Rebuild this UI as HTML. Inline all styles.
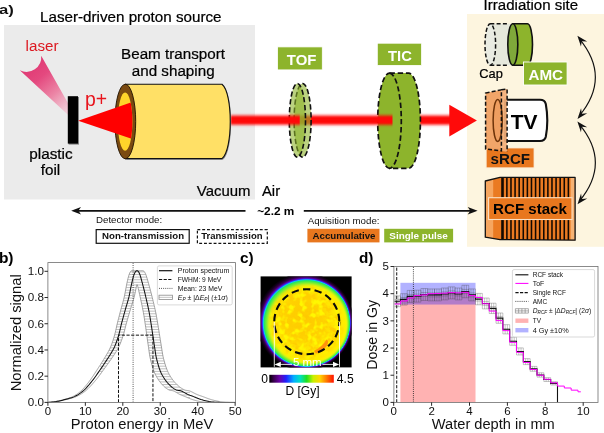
<!DOCTYPE html>
<html><head><meta charset="utf-8"><title>Figure</title>
<style>
html,body{margin:0;padding:0;background:#fff;}
body{width:604px;height:433px;overflow:hidden;font-family:"Liberation Sans", sans-serif;}
svg text{font-family:"Liberation Sans", sans-serif;}
</style></head><body>
<svg width="604" height="433" viewBox="0 0 604 433" font-family='"Liberation Sans", sans-serif' style="display:block;will-change:transform"><defs>
<linearGradient id="laserg" gradientUnits="userSpaceOnUse" x1="29" y1="63" x2="69" y2="110">
  <stop offset="0" stop-color="#e03872"/>
  <stop offset="0.3" stop-color="#e4497f"/>
  <stop offset="0.65" stop-color="#ec86a6"/>
  <stop offset="1" stop-color="#f2c6d4" stop-opacity="0.8"/>
</linearGradient>
<filter id="blur1" x="-5%" y="-60%" width="110%" height="220%"><feGaussianBlur stdDeviation="0 1.45"/></filter>
<filter id="blurS" x="-20%" y="-20%" width="140%" height="140%"><feGaussianBlur stdDeviation="0.6"/></filter>
<linearGradient id="cbar" x1="0" y1="0" x2="1" y2="0">
  <stop offset="0" stop-color="#000000"/>
  <stop offset="0.07" stop-color="#3a0050"/>
  <stop offset="0.16" stop-color="#6a00a8"/>
  <stop offset="0.26" stop-color="#2020ff"/>
  <stop offset="0.38" stop-color="#00b0ff"/>
  <stop offset="0.48" stop-color="#00e0c0"/>
  <stop offset="0.58" stop-color="#20e020"/>
  <stop offset="0.68" stop-color="#c8f000"/>
  <stop offset="0.78" stop-color="#ffd800"/>
  <stop offset="0.88" stop-color="#ff8000"/>
  <stop offset="1" stop-color="#ff1000"/>
</linearGradient>
<radialGradient id="rcfimg" gradientUnits="userSpaceOnUse" cx="304.84" cy="321.78" r="48.6" fx="321.4" fy="334.2">
  <stop offset="0" stop-color="#ffe600"/>
  <stop offset="0.70" stop-color="#ffec00"/>
  <stop offset="0.75" stop-color="#fdf000"/>
  <stop offset="0.788" stop-color="#eef408"/>
  <stop offset="0.8115" stop-color="#c8f018"/>
  <stop offset="0.8415" stop-color="#7cf030"/>
  <stop offset="0.877" stop-color="#28e858"/>
  <stop offset="0.8925" stop-color="#08c8f8"/>
  <stop offset="0.906" stop-color="#2838ff"/>
  <stop offset="0.918" stop-color="#5a00b0"/>
  <stop offset="0.94" stop-color="#36004c"/>
  <stop offset="0.97" stop-color="#14001c"/>
  <stop offset="1" stop-color="#000000"/>
</radialGradient>
<radialGradient id="oblob" gradientUnits="userSpaceOnUse" cx="302" cy="318" r="34">
  <stop offset="0" stop-color="#ffae00" stop-opacity="0.6"/>
  <stop offset="0.6" stop-color="#ffb400" stop-opacity="0.42"/>
  <stop offset="1" stop-color="#ffc000" stop-opacity="0"/>
</radialGradient>
<clipPath id="imgclip"><rect x="260.6" y="276.4" width="91" height="91"/></clipPath>
<clipPath id="axb"><rect x="48" y="262.5" width="187.5" height="140"/></clipPath>
<clipPath id="axd"><rect x="394.5" y="266.5" width="204.5" height="136"/></clipPath>
</defs>
<rect x="0" y="0" width="604" height="433" fill="#ffffff"/>
<rect x="4" y="25" width="251" height="174.5" fill="#ebebeb"/>
<rect x="467" y="14" width="137" height="232.8" fill="#fdf5df"/>
<text transform="translate(-1.1 14.4) scale(1.3 1)" font-size="12.8" font-weight="bold" fill="#111">a)</text>
<text x="40" y="21.5" font-size="15.2" text-anchor="start" font-weight="normal" fill="#000" stroke="#000" stroke-width="0.22" >Laser-driven proton source</text>
<text x="483.6" y="10.4" font-size="15.05" text-anchor="start" font-weight="normal" fill="#000" stroke="#000" stroke-width="0.22" >Irradiation site</text>
<text x="25.6" y="51.4" font-size="15.2" text-anchor="start" font-weight="normal" fill="#dc1820"  >laser</text>
<text x="173" y="59.4" font-size="15.2" text-anchor="middle" font-weight="normal" fill="#000" stroke="#000" stroke-width="0.22" >Beam transport</text>
<text x="173.2" y="75.8" font-size="15.2" text-anchor="middle" font-weight="normal" fill="#000" stroke="#000" stroke-width="0.22" >and shaping</text>
<text x="51" y="159.3" font-size="15.3" text-anchor="middle" font-weight="normal" fill="#000" stroke="#000" stroke-width="0.22" >plastic</text>
<text x="50.5" y="175.2" font-size="15.3" text-anchor="middle" font-weight="normal" fill="#000" stroke="#000" stroke-width="0.22" >foil</text>
<text x="196.8" y="195.7" font-size="14.95" text-anchor="start" font-weight="normal" fill="#000" stroke="#000" stroke-width="0.22" >Vacuum</text>
<text x="262" y="195.7" font-size="14.8" text-anchor="start" font-weight="normal" fill="#000" stroke="#000" stroke-width="0.22" >Air</text>
<text x="85" y="106" font-size="19.4" text-anchor="start" font-weight="normal" fill="#e8141c"  >p+</text>
<path d="M41.2 55.8 A14.8 14.8 0 0 1 19.8 70.3 L68.2 115 L68.2 103.4 Z" fill="url(#laserg)"/>
<rect x="68.6" y="97" width="10.4" height="47.6" fill="#000" fill-opacity="0.45" filter="url(#blurS)"/>
<rect x="67.8" y="96.2" width="10.2" height="47.4" fill="#000"/>
<path d="M125.3 84.3 L222 84.3 C233 93 233 150 222 158.6 L125.3 158.6 Z" transform="translate(0.9 1.1)" fill="#000" fill-opacity="0.4" filter="url(#blurS)"/>
<path d="M125.3 84.3 L222 84.3 C233 93 233 150 222 158.6 L125.3 158.6 Z" fill="#ffe066" stroke="#111" stroke-width="1.1" stroke-linejoin="round"/>
<ellipse cx="125.3" cy="121.5" rx="10.4" ry="37.3" fill="#7b4a10" stroke="#1e1000" stroke-width="0.9"/>
<ellipse cx="125.1" cy="121.6" rx="7.3" ry="29.2" fill="#ffd42a"/>
<clipPath id="conec"><rect x="60" y="90" width="65.1" height="64"/><ellipse cx="125.1" cy="121.6" rx="7.3" ry="29.2"/></clipPath>
<path d="M78.2 120.7 L134 101.5 L134 139.6 Z" fill="#ff0000" clip-path="url(#conec)"/>
<defs><linearGradient id="beamg" gradientUnits="userSpaceOnUse" x1="0" y1="112.2" x2="0" y2="128"><stop offset="0" stop-color="#ff0000" stop-opacity="0"/><stop offset="0.1" stop-color="#ff0000" stop-opacity="0.1"/><stop offset="0.2" stop-color="#ff0000" stop-opacity="0.45"/><stop offset="0.29" stop-color="#ff0000" stop-opacity="0.82"/><stop offset="0.37" stop-color="#ff0808" stop-opacity="1"/><stop offset="0.63" stop-color="#ff0808" stop-opacity="1"/><stop offset="0.71" stop-color="#ff0000" stop-opacity="0.82"/><stop offset="0.8" stop-color="#ff0000" stop-opacity="0.45"/><stop offset="0.9" stop-color="#ff0000" stop-opacity="0.1"/><stop offset="1" stop-color="#ff0000" stop-opacity="0"/></linearGradient><g id="beam"><rect x="225" y="112.2" width="228" height="15.8" fill="url(#beamg)"/></g><clipPath id="bc0"><rect x="299.8" y="100" width="16.2" height="44"/><rect x="392.5" y="100" width="68" height="44"/></clipPath><clipPath id="bc1"><rect x="231.2" y="100" width="68.6" height="44"/><rect x="316" y="100" width="76.5" height="44"/></clipPath></defs>
<use href="#beam" clip-path="url(#bc0)"/>
<path d="M449.3 104.8 L476.9 120.5 L449.3 136.4 Z" fill="#ff0a0a"/>
<rect x="277.5" y="46.9" width="44.8" height="23" fill="#8db42c" stroke="#fff" stroke-width="0.8"/>
<text x="286.8" y="64.6" font-size="14.8" font-weight="bold" fill="#fff" textLength="29.6" lengthAdjust="spacingAndGlyphs">TOF</text>
<ellipse cx="302.6" cy="120.3" rx="8.5" ry="36.8" fill="#8db42c" fill-opacity="0.6" stroke="#111" stroke-width="1.6" stroke-dasharray="5.2 2.6"/>
<ellipse cx="297.4" cy="120.3" rx="8.1" ry="36.8" fill="#8db42c" fill-opacity="0.6" stroke="#111" stroke-width="1.6" stroke-dasharray="5.2 2.6"/>
<rect x="377.3" y="43.2" width="44.3" height="22.2" fill="#8db42c" stroke="#fff" stroke-width="0.8"/>
<text x="388.1" y="61.1" font-size="14.8" font-weight="bold" fill="#fff" textLength="23.8" lengthAdjust="spacingAndGlyphs">TIC</text>
<path d="M389.5 73.1 L408.6 73.1 A11.8 47.6 0 0 1 408.6 168.3 L389.5 168.3 A11.8 47.6 0 0 1 389.5 73.1 Z" fill="#8db42c" stroke="#111" stroke-width="1.7" stroke-dasharray="5.4 2.8"/>
<path d="M389.5 73.1 A11.8 47.6 0 0 1 389.5 168.3" fill="none" stroke="#111" stroke-width="1.7" stroke-dasharray="5.4 2.8"/>
<use href="#beam" clip-path="url(#bc1)"/>
<path d="M77 210.8 L245.5 210.8 M303.8 210.8 L471.5 210.8" stroke="#111" stroke-width="1.75" fill="none"/>
<path d="M71.2 210.8 L81 207.1 L78.4 210.8 L81 214.5 Z" fill="#111"/>
<path d="M477.6 210.8 L467.7 207.1 L470.3 210.8 L467.7 214.5 Z" fill="#111"/>
<text x="257.2" y="215.1" font-size="11.8" text-anchor="start" font-weight="bold" fill="#000"  >~2.2 m</text>
<text x="96" y="223.4" font-size="9.9" fill="#111" textLength="66.2" lengthAdjust="spacingAndGlyphs">Detector mode:</text>
<rect x="96.2" y="229.6" width="93" height="13.7" fill="#fff" stroke="#111" stroke-width="1.2"/>
<text x="102.1" y="239.1" font-size="9.8" font-weight="bold" fill="#111" textLength="82" lengthAdjust="spacingAndGlyphs">Non-transmission</text>
<rect x="197.4" y="229.6" width="69.9" height="13.7" fill="#fff" stroke="#111" stroke-width="1.2" stroke-dasharray="2.9 1.9"/>
<text x="201.2" y="239.1" font-size="9.8" font-weight="bold" fill="#111" textLength="61.5" lengthAdjust="spacingAndGlyphs">Transmission</text>
<text x="307.7" y="224" font-size="9.9" fill="#111" textLength="71.8" lengthAdjust="spacingAndGlyphs">Aquisition mode:</text>
<rect x="307.4" y="228.8" width="72.1" height="13.6" fill="#e8771e"/>
<text x="312.5" y="238.9" font-size="9.9" font-weight="bold" fill="#111" textLength="63" lengthAdjust="spacingAndGlyphs">Accumulative</text>
<rect x="384.2" y="228.8" width="68.9" height="13.6" fill="#8db42c"/>
<text x="389.3" y="238.9" font-size="9.9" font-weight="bold" fill="#fff" textLength="58.5" lengthAdjust="spacingAndGlyphs">Single pulse</text>
<path d="M490.3 23.8 L512.5 23.8 L512.5 65.2 L490.3 65.2 A5.3 20.7 0 0 1 490.3 23.8 Z" fill="#e6e8dc"/>
<ellipse cx="490.3" cy="44.5" rx="5.3" ry="20.7" fill="#e9ebe2" stroke="#111" stroke-width="1.5" stroke-dasharray="4 2.3"/>
<path d="M490.3 23.8 L508 23.8 M490.3 65.2 L508 65.2" stroke="#111" stroke-width="1.5" stroke-dasharray="4 2.3" fill="none"/>
<path d="M512.8 23.8 L527.5 23.8 A5 20.7 0 0 1 527.5 65.2 L512.8 65.2 Z" fill="#8db42c" stroke="#111" stroke-width="1.6" stroke-linejoin="round"/>
<ellipse cx="512.8" cy="44.5" rx="5" ry="20.7" fill="#7fa83a" stroke="#111" stroke-width="1.6"/>
<text x="479.3" y="77.5" font-size="12.8" text-anchor="start" font-weight="normal" fill="#000" stroke="#000" stroke-width="0.22" >Cap</text>
<rect x="523.5" y="62" width="43.6" height="23" fill="#8db42c" stroke="#fff" stroke-width="0.9"/>
<text x="528.5" y="79.7" font-size="14.6" font-weight="bold" fill="#fff" textLength="34.6" lengthAdjust="spacingAndGlyphs">AMC</text>
<path d="M505 99.8 L540 99.8 Q544.8 99.8 545.8 104 Q548.8 120.4 545.8 136.8 Q544.8 141 540 141 L505 141 Z" fill="#fff" stroke="#111" stroke-width="2.1" stroke-linejoin="round"/>
<text x="524.2" y="129.1" font-size="21" text-anchor="middle" font-weight="bold" fill="#000"  >TV</text>
<rect x="486.2" y="148" width="47.8" height="19.8" fill="#e8771e" stroke="#fbe6cf" stroke-width="0.8"/>
<text x="510.3" y="163.6" font-size="14.5" font-weight="bold" text-anchor="middle" fill="#111" textLength="39.4" lengthAdjust="spacingAndGlyphs">sRCF</text>
<path d="M485.6 93.1 L501.4 89.8 L501.4 151 L485.6 149 Z" fill="#f0a062" fill-opacity="0.95"/>
<path d="M501.4 89.8 L507.1 89 L507.1 151.8 L501.4 151 Z" fill="#f3ae78" fill-opacity="0.93"/>
<ellipse cx="497.7" cy="120.4" rx="4.6" ry="21" fill="#ef9a5a" fill-opacity="0.6" stroke="#6e340a" stroke-width="1.5"/>
<path d="M485.6 93.1 L501.4 89.8 L501.4 151 L485.6 149 Z" fill="none" stroke="#111" stroke-width="1.5" stroke-dasharray="4 2.2"/>
<path d="M501.4 89.8 L507.1 89 L507.1 151.8" fill="none" stroke="#111" stroke-width="1.5" stroke-dasharray="4 2.2"/>
<path d="M485.3 181 L500 177.4 L575.1 177.4 L575.1 240.2 L500 239.6 L485.3 237.2 Z" fill="#ea7a22"/>
<path d="M485.3 181 L493.2 179.1 L493.2 238.5 L485.3 237.2 Z" fill="#f6a660"/>
<rect x="570.6" y="177.4" width="4.5" height="62.8" fill="#f7b374"/>
<rect x="501.20" y="177.4" width="2.6" height="62.6" fill="#120800"/><rect x="506.10" y="177.4" width="1.55" height="62.6" fill="#120800"/><rect x="510.20" y="177.4" width="1.55" height="62.6" fill="#120800"/><rect x="514.30" y="177.4" width="1.55" height="62.6" fill="#120800"/><rect x="518.40" y="177.4" width="1.55" height="62.6" fill="#120800"/><rect x="522.50" y="177.4" width="1.55" height="62.6" fill="#120800"/><rect x="526.60" y="177.4" width="1.55" height="62.6" fill="#120800"/><rect x="530.70" y="177.4" width="1.55" height="62.6" fill="#120800"/><rect x="534.80" y="177.4" width="1.55" height="62.6" fill="#120800"/><rect x="538.90" y="177.4" width="1.55" height="62.6" fill="#120800"/><rect x="543.00" y="177.4" width="1.55" height="62.6" fill="#120800"/><rect x="547.10" y="177.4" width="1.55" height="62.6" fill="#120800"/><rect x="551.20" y="177.4" width="1.55" height="62.6" fill="#120800"/><rect x="555.30" y="177.4" width="1.55" height="62.6" fill="#120800"/><rect x="559.40" y="177.4" width="1.55" height="62.6" fill="#120800"/><rect x="563.50" y="177.4" width="1.55" height="62.6" fill="#120800"/><rect x="567.60" y="177.4" width="1.55" height="62.6" fill="#120800"/>
<path d="M485.3 181 L500 177.4 L575.1 177.4 L575.1 240.2 L500 239.6 L485.3 237.2 Z" fill="none" stroke="#111" stroke-width="1.3" stroke-linejoin="round"/>
<rect x="488.6" y="197.7" width="83.4" height="21.8" fill="#e8771e" stroke="#fbe0c4" stroke-width="1.1"/>
<text x="530" y="213.9" font-size="15.1" text-anchor="middle" font-weight="bold" fill="#000"  >RCF stack</text>
<path d="M579.2 38.6 Q611.5 77.3 579.2 116" fill="none" stroke="#111" stroke-width="1.15"/>
<path d="M577.40 35.80 L580.96 46.56 L581.74 41.15 L587.18 41.52 Z" fill="#111"/>
<path d="M577.50 119.00 L587.28 113.28 L581.84 113.65 L581.06 108.24 Z" fill="#111"/>
<path d="M579.2 124.2 Q611.5 162.8 579.2 201.4" fill="none" stroke="#111" stroke-width="1.15"/>
<path d="M577.40 121.50 L580.96 132.26 L581.74 126.85 L587.18 127.22 Z" fill="#111"/>
<path d="M577.50 204.30 L587.28 198.58 L581.84 198.95 L581.06 193.54 Z" fill="#111"/>
<text x="-1.1" y="263" font-size="15.5" text-anchor="start" font-weight="bold" fill="#000"  >b)</text>
<clipPath id="bandclip"><path d="M47.90 402.40 L48.37 402.39 L48.84 402.39 L49.30 402.36 L49.77 402.33 L50.24 402.28 L50.71 402.22 L51.18 402.17 L51.64 402.11 L52.11 402.06 L52.58 402.00 L53.05 401.94 L53.52 401.88 L53.99 401.81 L54.45 401.74 L54.92 401.67 L55.39 401.59 L55.86 401.51 L56.33 401.42 L56.79 401.32 L57.26 401.22 L57.73 401.12 L58.20 401.02 L58.67 400.91 L59.13 400.80 L59.60 400.69 L60.07 400.58 L60.54 400.46 L61.01 400.34 L61.48 400.22 L61.94 400.10 L62.41 399.98 L62.88 399.85 L63.35 399.72 L63.82 399.59 L64.28 399.45 L64.75 399.32 L65.22 399.18 L65.69 399.04 L66.16 398.91 L66.62 398.77 L67.09 398.64 L67.56 398.51 L68.03 398.37 L68.50 398.23 L68.97 398.09 L69.43 397.94 L69.90 397.78 L70.37 397.62 L70.84 397.45 L71.31 397.27 L71.77 397.07 L72.24 396.87 L72.71 396.64 L73.18 396.41 L73.65 396.16 L74.11 395.91 L74.58 395.64 L75.05 395.37 L75.52 395.09 L75.99 394.80 L76.46 394.50 L76.92 394.18 L77.39 393.87 L77.86 393.53 L78.33 393.19 L78.80 392.82 L79.26 392.46 L79.73 392.07 L80.20 391.67 L80.67 391.26 L81.14 390.83 L81.60 390.39 L82.07 389.93 L82.54 389.46 L83.01 388.97 L83.48 388.47 L83.95 387.95 L84.41 387.43 L84.88 386.88 L85.35 386.33 L85.82 385.77 L86.29 385.20 L86.75 384.61 L87.22 384.02 L87.69 383.42 L88.16 382.82 L88.63 382.21 L89.09 381.59 L89.56 380.97 L90.03 380.33 L90.50 379.70 L90.97 379.04 L91.44 378.37 L91.90 377.70 L92.37 377.01 L92.84 376.32 L93.31 375.62 L93.78 374.92 L94.24 374.21 L94.71 373.49 L95.18 372.77 L95.65 372.05 L96.12 371.33 L96.59 370.61 L97.05 369.88 L97.52 369.16 L97.99 368.44 L98.46 367.71 L98.93 366.99 L99.39 366.26 L99.86 365.53 L100.33 364.80 L100.80 364.06 L101.27 363.32 L101.73 362.58 L102.20 361.83 L102.67 361.09 L103.14 360.33 L103.61 359.58 L104.08 358.81 L104.54 358.04 L105.01 357.27 L105.48 356.48 L105.95 355.69 L106.42 354.89 L106.88 354.09 L107.35 353.29 L107.82 352.48 L108.29 351.64 L108.76 350.78 L109.22 349.89 L109.69 348.95 L110.16 347.95 L110.63 346.88 L111.10 345.75 L111.56 344.55 L112.03 343.28 L112.50 341.94 L112.97 340.53 L113.44 339.06 L113.91 337.53 L114.37 335.94 L114.84 334.27 L115.31 332.43 L115.78 330.38 L116.25 328.21 L116.71 326.06 L117.18 324.04 L117.65 322.13 L118.12 320.27 L118.59 318.42 L119.06 316.60 L119.52 314.79 L119.99 312.99 L120.46 311.20 L120.93 309.44 L121.40 307.72 L121.86 306.03 L122.33 304.34 L122.80 302.65 L123.27 300.93 L123.74 299.15 L124.20 297.25 L124.67 295.11 L125.14 292.62 L125.61 289.94 L126.08 287.50 L126.54 285.13 L127.01 282.82 L127.48 280.66 L127.95 278.70 L128.42 276.90 L128.89 275.28 L129.35 273.90 L129.82 272.79 L130.29 271.93 L130.76 271.30 L131.23 270.90 L131.69 270.70 L132.16 270.73 L132.63 270.69 L133.10 270.76 L133.57 270.69 L134.03 270.74 L134.50 270.69 L134.97 270.71 L135.44 270.70 L135.91 270.70 L136.38 270.72 L136.84 270.70 L137.31 270.73 L137.78 270.69 L138.25 270.74 L138.72 270.69 L139.18 270.74 L139.65 270.69 L140.12 270.73 L140.59 270.70 L141.06 270.72 L141.53 270.70 L141.99 270.70 L142.46 270.72 L142.93 270.70 L143.40 270.85 L143.87 271.18 L144.33 271.70 L144.80 272.42 L145.27 273.30 L145.74 274.35 L146.21 275.56 L146.67 276.97 L147.14 278.56 L147.61 280.22 L148.08 281.88 L148.55 283.52 L149.02 285.17 L149.48 286.85 L149.95 288.56 L150.42 290.31 L150.89 292.11 L151.36 293.94 L151.82 295.81 L152.29 297.68 L152.76 299.58 L153.23 301.50 L153.70 303.44 L154.16 305.41 L154.63 307.43 L155.10 309.50 L155.57 311.68 L156.04 314.00 L156.50 316.52 L156.97 319.20 L157.44 321.98 L157.91 324.74 L158.38 327.57 L158.85 330.53 L159.31 333.51 L159.78 336.45 L160.25 339.42 L160.72 342.38 L161.19 345.29 L161.65 348.13 L162.12 351.15 L162.59 354.07 L163.06 356.49 L163.53 358.52 L164.00 360.30 L164.46 361.99 L164.93 363.59 L165.40 365.11 L165.87 366.56 L166.34 367.92 L166.80 369.19 L167.27 370.37 L167.74 371.47 L168.21 372.49 L168.68 373.44 L169.14 374.32 L169.61 375.14 L170.08 375.92 L170.55 376.67 L171.02 377.38 L171.49 378.06 L171.95 378.73 L172.42 379.37 L172.89 380.00 L173.36 380.60 L173.83 381.18 L174.29 381.73 L174.76 382.27 L175.23 382.79 L175.70 383.30 L176.17 383.79 L176.63 384.26 L177.10 384.72 L177.57 385.16 L178.04 385.59 L178.51 386.01 L178.98 386.41 L179.44 386.79 L179.91 387.15 L180.38 387.50 L180.85 387.83 L181.32 388.14 L181.78 388.44 L182.25 388.72 L182.72 388.99 L183.19 389.25 L183.66 389.49 L184.12 389.71 L184.59 389.93 L185.06 390.10 L185.53 390.25 L186.00 390.35 L186.47 390.42 L186.93 390.47 L187.40 390.52 L187.87 390.56 L188.34 390.62 L188.81 390.71 L189.27 390.83 L189.74 390.97 L190.21 391.16 L190.68 391.35 L191.15 391.57 L191.61 391.79 L192.08 392.03 L192.55 392.27 L193.02 392.51 L193.49 392.76 L193.96 393.01 L194.42 393.25 L194.89 393.49 L195.36 393.73 L195.83 393.96 L196.30 394.18 L196.76 394.39 L197.23 394.59 L197.70 394.78 L198.17 394.96 L198.64 395.14 L199.10 395.31 L199.57 395.47 L200.04 395.63 L200.51 395.79 L200.98 395.94 L201.45 396.10 L201.91 396.26 L202.38 396.43 L202.85 396.59 L203.32 396.77 L203.79 396.94 L204.25 397.12 L204.72 397.30 L205.19 397.48 L205.66 397.67 L206.13 397.85 L206.59 398.03 L207.06 398.21 L207.53 398.38 L208.00 398.56 L208.47 398.72 L208.94 398.89 L209.40 399.04 L209.87 399.20 L210.34 399.34 L210.81 399.48 L211.28 399.61 L211.74 399.74 L212.21 399.87 L212.68 400.00 L213.15 400.12 L213.62 400.24 L214.08 400.36 L214.55 400.48 L215.02 400.59 L215.49 400.71 L215.96 400.81 L216.43 400.92 L216.89 401.02 L217.36 401.12 L217.83 401.21 L218.30 401.31 L218.77 401.39 L219.23 401.48 L219.70 401.56 L220.17 401.63 L220.64 401.71 L221.11 401.77 L221.57 401.83 L222.04 401.90 L222.51 401.95 L222.98 402.00 L223.45 402.05 L223.92 402.08 L224.38 402.12 L224.85 402.16 L225.32 402.19 L225.79 402.22 L226.26 402.24 L226.72 402.26 L227.19 402.28 L227.66 402.30 L228.13 402.31 L228.60 402.33 L229.06 402.34 L229.53 402.36 L230.00 402.37 L230.47 402.38 L230.94 402.39 L231.41 402.40 L231.87 402.40 L232.34 402.40 L232.81 402.40 L233.28 402.40 L233.75 402.40 L234.21 402.40 L234.68 402.40 L235.15 402.40 L235.15 402.40 L234.68 402.40 L234.21 402.40 L233.75 402.40 L233.28 402.40 L232.81 402.40 L232.34 402.40 L231.87 402.40 L231.41 402.40 L230.94 402.40 L230.47 402.40 L230.00 402.40 L229.53 402.40 L229.06 402.40 L228.60 402.40 L228.13 402.40 L227.66 402.40 L227.19 402.40 L226.72 402.40 L226.26 402.40 L225.79 402.40 L225.32 402.40 L224.85 402.40 L224.38 402.40 L223.92 402.40 L223.45 402.40 L222.98 402.40 L222.51 402.40 L222.04 402.40 L221.57 402.40 L221.11 402.40 L220.64 402.40 L220.17 402.40 L219.70 402.40 L219.23 402.40 L218.77 402.40 L218.30 402.40 L217.83 402.40 L217.36 402.40 L216.89 402.40 L216.43 402.40 L215.96 402.40 L215.49 402.40 L215.02 402.40 L214.55 402.40 L214.08 402.40 L213.62 402.40 L213.15 402.40 L212.68 402.40 L212.21 402.40 L211.74 402.40 L211.28 402.40 L210.81 402.40 L210.34 402.40 L209.87 402.39 L209.40 402.37 L208.94 402.36 L208.47 402.34 L208.00 402.33 L207.53 402.31 L207.06 402.29 L206.59 402.27 L206.13 402.25 L205.66 402.22 L205.19 402.19 L204.72 402.16 L204.25 402.12 L203.79 402.08 L203.32 402.03 L202.85 401.98 L202.38 401.92 L201.91 401.86 L201.45 401.79 L200.98 401.71 L200.51 401.63 L200.04 401.55 L199.57 401.45 L199.10 401.36 L198.64 401.26 L198.17 401.15 L197.70 401.04 L197.23 400.92 L196.76 400.81 L196.30 400.68 L195.83 400.56 L195.36 400.43 L194.89 400.30 L194.42 400.16 L193.96 400.02 L193.49 399.88 L193.02 399.73 L192.55 399.59 L192.08 399.43 L191.61 399.27 L191.15 399.11 L190.68 398.93 L190.21 398.75 L189.74 398.56 L189.27 398.37 L188.81 398.17 L188.34 397.96 L187.87 397.76 L187.40 397.55 L186.93 397.35 L186.47 397.14 L186.00 396.94 L185.53 396.74 L185.06 396.55 L184.59 396.36 L184.12 396.18 L183.66 396.00 L183.19 395.82 L182.72 395.65 L182.25 395.46 L181.78 395.28 L181.32 395.09 L180.85 394.89 L180.38 394.68 L179.91 394.46 L179.44 394.23 L178.98 393.98 L178.51 393.72 L178.04 393.45 L177.57 393.18 L177.10 392.90 L176.63 392.62 L176.17 392.35 L175.70 392.07 L175.23 391.81 L174.76 391.55 L174.29 391.31 L173.83 391.10 L173.36 390.91 L172.89 390.75 L172.42 390.64 L171.95 390.57 L171.49 390.52 L171.02 390.47 L170.55 390.41 L170.08 390.32 L169.61 390.19 L169.14 390.00 L168.68 389.77 L168.21 389.52 L167.74 389.26 L167.27 388.96 L166.80 388.66 L166.34 388.34 L165.87 387.99 L165.40 387.63 L164.93 387.24 L164.46 386.84 L164.00 386.41 L163.53 385.96 L163.06 385.49 L162.59 384.99 L162.12 384.48 L161.65 383.96 L161.19 383.41 L160.72 382.85 L160.25 382.26 L159.78 381.65 L159.31 381.02 L158.85 380.36 L158.38 379.67 L157.91 378.95 L157.44 378.20 L156.97 377.44 L156.50 376.64 L156.04 375.79 L155.57 374.90 L155.10 373.94 L154.63 372.92 L154.16 371.80 L153.70 370.59 L153.23 369.27 L152.76 367.83 L152.29 366.28 L151.82 364.64 L151.36 362.89 L150.89 361.03 L150.42 359.06 L149.95 356.87 L149.48 354.18 L149.02 350.89 L148.55 347.52 L148.08 344.31 L147.61 341.00 L147.14 337.65 L146.67 334.32 L146.21 330.97 L145.74 327.63 L145.27 324.44 L144.80 321.33 L144.33 318.21 L143.87 315.27 L143.40 312.54 L142.93 310.04 L142.46 307.69 L141.99 305.41 L141.53 303.19 L141.06 301.01 L140.59 298.85 L140.12 296.72 L139.65 294.62 L139.18 292.53 L138.72 290.50 L138.25 288.53 L137.78 286.60 L137.31 284.72 L136.84 284.69 L136.38 286.78 L135.91 288.90 L135.44 291.20 L134.97 293.55 L134.50 295.65 L134.03 297.52 L133.57 299.19 L133.10 300.77 L132.63 302.30 L132.16 303.81 L131.69 305.30 L131.23 306.79 L130.76 308.30 L130.29 309.84 L129.82 311.40 L129.35 312.99 L128.89 314.58 L128.42 316.19 L127.95 317.80 L127.48 319.43 L127.01 321.07 L126.54 322.74 L126.08 324.45 L125.61 326.26 L125.14 328.17 L124.67 330.10 L124.20 331.94 L123.74 333.64 L123.27 335.18 L122.80 336.61 L122.33 338.00 L121.86 339.35 L121.40 340.64 L120.93 341.89 L120.46 343.08 L119.99 344.22 L119.52 345.32 L119.06 346.34 L118.59 347.31 L118.12 348.23 L117.65 349.11 L117.18 349.94 L116.71 350.73 L116.25 351.50 L115.78 352.24 L115.31 352.97 L114.84 353.69 L114.37 354.40 L113.91 355.10 L113.44 355.81 L112.97 356.51 L112.50 357.21 L112.03 357.90 L111.56 358.58 L111.10 359.26 L110.63 359.93 L110.16 360.61 L109.69 361.27 L109.22 361.93 L108.76 362.59 L108.29 363.25 L107.82 363.91 L107.35 364.56 L106.88 365.21 L106.42 365.86 L105.95 366.51 L105.48 367.15 L105.01 367.80 L104.54 368.44 L104.08 369.08 L103.61 369.72 L103.14 370.36 L102.67 371.00 L102.20 371.64 L101.73 372.28 L101.27 372.92 L100.80 373.56 L100.33 374.19 L99.86 374.82 L99.39 375.45 L98.93 376.07 L98.46 376.69 L97.99 377.30 L97.52 377.90 L97.05 378.50 L96.59 379.09 L96.12 379.67 L95.65 380.24 L95.18 380.80 L94.71 381.36 L94.24 381.91 L93.78 382.45 L93.31 382.99 L92.84 383.53 L92.37 384.06 L91.90 384.58 L91.44 385.10 L90.97 385.61 L90.50 386.11 L90.03 386.60 L89.56 387.09 L89.09 387.57 L88.63 388.03 L88.16 388.49 L87.69 388.93 L87.22 389.37 L86.75 389.79 L86.29 390.20 L85.82 390.61 L85.35 390.99 L84.88 391.36 L84.41 391.73 L83.95 392.08 L83.48 392.42 L83.01 392.75 L82.54 393.07 L82.07 393.38 L81.60 393.68 L81.14 393.98 L80.67 394.25 L80.20 394.53 L79.73 394.80 L79.26 395.06 L78.80 395.31 L78.33 395.55 L77.86 395.79 L77.39 396.02 L76.92 396.24 L76.46 396.46 L75.99 396.66 L75.52 396.87 L75.05 397.04 L74.58 397.22 L74.11 397.39 L73.65 397.54 L73.18 397.69 L72.71 397.83 L72.24 397.97 L71.77 398.10 L71.31 398.23 L70.84 398.35 L70.37 398.47 L69.90 398.59 L69.43 398.71 L68.97 398.83 L68.50 398.94 L68.03 399.07 L67.56 399.19 L67.09 399.31 L66.62 399.43 L66.16 399.55 L65.69 399.67 L65.22 399.78 L64.75 399.90 L64.28 400.01 L63.82 400.12 L63.35 400.23 L62.88 400.34 L62.41 400.44 L61.94 400.54 L61.48 400.65 L61.01 400.74 L60.54 400.84 L60.07 400.94 L59.60 401.03 L59.13 401.13 L58.67 401.21 L58.20 401.30 L57.73 401.39 L57.26 401.47 L56.79 401.55 L56.33 401.62 L55.86 401.69 L55.39 401.75 L54.92 401.81 L54.45 401.87 L53.99 401.93 L53.52 401.98 L53.05 402.03 L52.58 402.08 L52.11 402.13 L51.64 402.18 L51.18 402.23 L50.71 402.27 L50.24 402.32 L49.77 402.35 L49.30 402.38 L48.84 402.39 L48.37 402.39 L47.90 402.40 Z" clip-rule="nonzero"/></clipPath>
<g clip-path="url(#axb)">
<g clip-path="url(#bandclip)"><path d="M100 264.00 H190 M100 266.62 H190 M100 269.24 H190 M100 271.86 H190 M100 274.48 H190 M100 277.10 H190 M100 279.72 H190 M100 282.34 H190 M100 284.96 H190 M100 287.58 H190 M100 290.20 H190 M100 292.82 H190 M100 295.44 H190 M100 298.06 H190 M100 300.68 H190 M100 303.30 H190 M100 305.92 H190 M100 308.54 H190 M100 311.16 H190 M100 313.78 H190 M100 316.40 H190 M100 319.02 H190 M100 321.64 H190 M100 324.26 H190 M100 326.88 H190 M100 329.50 H190 M100 332.12 H190 M100 334.74 H190 M100 337.36 H190 M100 339.98 H190 M100 342.60 H190 M100 345.22 H190 M100 347.84 H190 M100 350.46 H190 M100 353.08 H190 M100 355.70 H190 M100 358.32 H190 M100 360.94 H190 M100 363.56 H190 M100 366.18 H190 M100 368.80 H190 M100 371.42 H190 M100 374.04 H190 M100 376.66 H190 M100 379.28 H190 M100 381.90 H190 M100 384.52 H190 M100 387.14 H190 M100 389.76 H190 M100 392.38 H190 M100 395.00 H190 M100 397.62 H190 M100 400.24 H190" stroke="#9c9c9c" stroke-width="0.65" fill="none"/></g>
<path d="M47.90 402.40 L48.37 402.39 L48.84 402.39 L49.30 402.36 L49.77 402.33 L50.24 402.28 L50.71 402.22 L51.18 402.17 L51.64 402.11 L52.11 402.06 L52.58 402.00 L53.05 401.94 L53.52 401.88 L53.99 401.81 L54.45 401.74 L54.92 401.67 L55.39 401.59 L55.86 401.51 L56.33 401.42 L56.79 401.32 L57.26 401.22 L57.73 401.12 L58.20 401.02 L58.67 400.91 L59.13 400.80 L59.60 400.69 L60.07 400.58 L60.54 400.46 L61.01 400.34 L61.48 400.22 L61.94 400.10 L62.41 399.98 L62.88 399.85 L63.35 399.72 L63.82 399.59 L64.28 399.45 L64.75 399.32 L65.22 399.18 L65.69 399.04 L66.16 398.91 L66.62 398.77 L67.09 398.64 L67.56 398.51 L68.03 398.37 L68.50 398.23 L68.97 398.09 L69.43 397.94 L69.90 397.78 L70.37 397.62 L70.84 397.45 L71.31 397.27 L71.77 397.07 L72.24 396.87 L72.71 396.64 L73.18 396.41 L73.65 396.16 L74.11 395.91 L74.58 395.64 L75.05 395.37 L75.52 395.09 L75.99 394.80 L76.46 394.50 L76.92 394.18 L77.39 393.87 L77.86 393.53 L78.33 393.19 L78.80 392.82 L79.26 392.46 L79.73 392.07 L80.20 391.67 L80.67 391.26 L81.14 390.83 L81.60 390.39 L82.07 389.93 L82.54 389.46 L83.01 388.97 L83.48 388.47 L83.95 387.95 L84.41 387.43 L84.88 386.88 L85.35 386.33 L85.82 385.77 L86.29 385.20 L86.75 384.61 L87.22 384.02 L87.69 383.42 L88.16 382.82 L88.63 382.21 L89.09 381.59 L89.56 380.97 L90.03 380.33 L90.50 379.70 L90.97 379.04 L91.44 378.37 L91.90 377.70 L92.37 377.01 L92.84 376.32 L93.31 375.62 L93.78 374.92 L94.24 374.21 L94.71 373.49 L95.18 372.77 L95.65 372.05 L96.12 371.33 L96.59 370.61 L97.05 369.88 L97.52 369.16 L97.99 368.44 L98.46 367.71 L98.93 366.99 L99.39 366.26 L99.86 365.53 L100.33 364.80 L100.80 364.06 L101.27 363.32 L101.73 362.58 L102.20 361.83 L102.67 361.09 L103.14 360.33 L103.61 359.58 L104.08 358.81 L104.54 358.04 L105.01 357.27 L105.48 356.48 L105.95 355.69 L106.42 354.89 L106.88 354.09 L107.35 353.29 L107.82 352.48 L108.29 351.64 L108.76 350.78 L109.22 349.89 L109.69 348.95 L110.16 347.95 L110.63 346.88 L111.10 345.75 L111.56 344.55 L112.03 343.28 L112.50 341.94 L112.97 340.53 L113.44 339.06 L113.91 337.53 L114.37 335.94 L114.84 334.27 L115.31 332.43 L115.78 330.38 L116.25 328.21 L116.71 326.06 L117.18 324.04 L117.65 322.13 L118.12 320.27 L118.59 318.42 L119.06 316.60 L119.52 314.79 L119.99 312.99 L120.46 311.20 L120.93 309.44 L121.40 307.72 L121.86 306.03 L122.33 304.34 L122.80 302.65 L123.27 300.93 L123.74 299.15 L124.20 297.25 L124.67 295.11 L125.14 292.62 L125.61 289.94 L126.08 287.50 L126.54 285.13 L127.01 282.82 L127.48 280.66 L127.95 278.70 L128.42 276.90 L128.89 275.28 L129.35 273.90 L129.82 272.79 L130.29 271.93 L130.76 271.30 L131.23 270.90 L131.69 270.70 L132.16 270.73 L132.63 270.69 L133.10 270.76 L133.57 270.69 L134.03 270.74 L134.50 270.69 L134.97 270.71 L135.44 270.70 L135.91 270.70 L136.38 270.72 L136.84 270.70 L137.31 270.73 L137.78 270.69 L138.25 270.74 L138.72 270.69 L139.18 270.74 L139.65 270.69 L140.12 270.73 L140.59 270.70 L141.06 270.72 L141.53 270.70 L141.99 270.70 L142.46 270.72 L142.93 270.70 L143.40 270.85 L143.87 271.18 L144.33 271.70 L144.80 272.42 L145.27 273.30 L145.74 274.35 L146.21 275.56 L146.67 276.97 L147.14 278.56 L147.61 280.22 L148.08 281.88 L148.55 283.52 L149.02 285.17 L149.48 286.85 L149.95 288.56 L150.42 290.31 L150.89 292.11 L151.36 293.94 L151.82 295.81 L152.29 297.68 L152.76 299.58 L153.23 301.50 L153.70 303.44 L154.16 305.41 L154.63 307.43 L155.10 309.50 L155.57 311.68 L156.04 314.00 L156.50 316.52 L156.97 319.20 L157.44 321.98 L157.91 324.74 L158.38 327.57 L158.85 330.53 L159.31 333.51 L159.78 336.45 L160.25 339.42 L160.72 342.38 L161.19 345.29 L161.65 348.13 L162.12 351.15 L162.59 354.07 L163.06 356.49 L163.53 358.52 L164.00 360.30 L164.46 361.99 L164.93 363.59 L165.40 365.11 L165.87 366.56 L166.34 367.92 L166.80 369.19 L167.27 370.37 L167.74 371.47 L168.21 372.49 L168.68 373.44 L169.14 374.32 L169.61 375.14 L170.08 375.92 L170.55 376.67 L171.02 377.38 L171.49 378.06 L171.95 378.73 L172.42 379.37 L172.89 380.00 L173.36 380.60 L173.83 381.18 L174.29 381.73 L174.76 382.27 L175.23 382.79 L175.70 383.30 L176.17 383.79 L176.63 384.26 L177.10 384.72 L177.57 385.16 L178.04 385.59 L178.51 386.01 L178.98 386.41 L179.44 386.79 L179.91 387.15 L180.38 387.50 L180.85 387.83 L181.32 388.14 L181.78 388.44 L182.25 388.72 L182.72 388.99 L183.19 389.25 L183.66 389.49 L184.12 389.71 L184.59 389.93 L185.06 390.10 L185.53 390.25 L186.00 390.35 L186.47 390.42 L186.93 390.47 L187.40 390.52 L187.87 390.56 L188.34 390.62 L188.81 390.71 L189.27 390.83 L189.74 390.97 L190.21 391.16 L190.68 391.35 L191.15 391.57 L191.61 391.79 L192.08 392.03 L192.55 392.27 L193.02 392.51 L193.49 392.76 L193.96 393.01 L194.42 393.25 L194.89 393.49 L195.36 393.73 L195.83 393.96 L196.30 394.18 L196.76 394.39 L197.23 394.59 L197.70 394.78 L198.17 394.96 L198.64 395.14 L199.10 395.31 L199.57 395.47 L200.04 395.63 L200.51 395.79 L200.98 395.94 L201.45 396.10 L201.91 396.26 L202.38 396.43 L202.85 396.59 L203.32 396.77 L203.79 396.94 L204.25 397.12 L204.72 397.30 L205.19 397.48 L205.66 397.67 L206.13 397.85 L206.59 398.03 L207.06 398.21 L207.53 398.38 L208.00 398.56 L208.47 398.72 L208.94 398.89 L209.40 399.04 L209.87 399.20 L210.34 399.34 L210.81 399.48 L211.28 399.61 L211.74 399.74 L212.21 399.87 L212.68 400.00 L213.15 400.12 L213.62 400.24 L214.08 400.36 L214.55 400.48 L215.02 400.59 L215.49 400.71 L215.96 400.81 L216.43 400.92 L216.89 401.02 L217.36 401.12 L217.83 401.21 L218.30 401.31 L218.77 401.39 L219.23 401.48 L219.70 401.56 L220.17 401.63 L220.64 401.71 L221.11 401.77 L221.57 401.83 L222.04 401.90 L222.51 401.95 L222.98 402.00 L223.45 402.05 L223.92 402.08 L224.38 402.12 L224.85 402.16 L225.32 402.19 L225.79 402.22 L226.26 402.24 L226.72 402.26 L227.19 402.28 L227.66 402.30 L228.13 402.31 L228.60 402.33 L229.06 402.34 L229.53 402.36 L230.00 402.37 L230.47 402.38 L230.94 402.39 L231.41 402.40 L231.87 402.40 L232.34 402.40 L232.81 402.40 L233.28 402.40 L233.75 402.40 L234.21 402.40 L234.68 402.40 L235.15 402.40" fill="none" stroke="#909090" stroke-width="0.85"/>
<path d="M47.90 402.40 L48.37 402.39 L48.84 402.39 L49.30 402.38 L49.77 402.35 L50.24 402.32 L50.71 402.27 L51.18 402.23 L51.64 402.18 L52.11 402.13 L52.58 402.08 L53.05 402.03 L53.52 401.98 L53.99 401.93 L54.45 401.87 L54.92 401.81 L55.39 401.75 L55.86 401.69 L56.33 401.62 L56.79 401.55 L57.26 401.47 L57.73 401.39 L58.20 401.30 L58.67 401.21 L59.13 401.13 L59.60 401.03 L60.07 400.94 L60.54 400.84 L61.01 400.74 L61.48 400.65 L61.94 400.54 L62.41 400.44 L62.88 400.34 L63.35 400.23 L63.82 400.12 L64.28 400.01 L64.75 399.90 L65.22 399.78 L65.69 399.67 L66.16 399.55 L66.62 399.43 L67.09 399.31 L67.56 399.19 L68.03 399.07 L68.50 398.94 L68.97 398.83 L69.43 398.71 L69.90 398.59 L70.37 398.47 L70.84 398.35 L71.31 398.23 L71.77 398.10 L72.24 397.97 L72.71 397.83 L73.18 397.69 L73.65 397.54 L74.11 397.39 L74.58 397.22 L75.05 397.04 L75.52 396.87 L75.99 396.66 L76.46 396.46 L76.92 396.24 L77.39 396.02 L77.86 395.79 L78.33 395.55 L78.80 395.31 L79.26 395.06 L79.73 394.80 L80.20 394.53 L80.67 394.25 L81.14 393.98 L81.60 393.68 L82.07 393.38 L82.54 393.07 L83.01 392.75 L83.48 392.42 L83.95 392.08 L84.41 391.73 L84.88 391.36 L85.35 390.99 L85.82 390.61 L86.29 390.20 L86.75 389.79 L87.22 389.37 L87.69 388.93 L88.16 388.49 L88.63 388.03 L89.09 387.57 L89.56 387.09 L90.03 386.60 L90.50 386.11 L90.97 385.61 L91.44 385.10 L91.90 384.58 L92.37 384.06 L92.84 383.53 L93.31 382.99 L93.78 382.45 L94.24 381.91 L94.71 381.36 L95.18 380.80 L95.65 380.24 L96.12 379.67 L96.59 379.09 L97.05 378.50 L97.52 377.90 L97.99 377.30 L98.46 376.69 L98.93 376.07 L99.39 375.45 L99.86 374.82 L100.33 374.19 L100.80 373.56 L101.27 372.92 L101.73 372.28 L102.20 371.64 L102.67 371.00 L103.14 370.36 L103.61 369.72 L104.08 369.08 L104.54 368.44 L105.01 367.80 L105.48 367.15 L105.95 366.51 L106.42 365.86 L106.88 365.21 L107.35 364.56 L107.82 363.91 L108.29 363.25 L108.76 362.59 L109.22 361.93 L109.69 361.27 L110.16 360.61 L110.63 359.93 L111.10 359.26 L111.56 358.58 L112.03 357.90 L112.50 357.21 L112.97 356.51 L113.44 355.81 L113.91 355.10 L114.37 354.40 L114.84 353.69 L115.31 352.97 L115.78 352.24 L116.25 351.50 L116.71 350.73 L117.18 349.94 L117.65 349.11 L118.12 348.23 L118.59 347.31 L119.06 346.34 L119.52 345.32 L119.99 344.22 L120.46 343.08 L120.93 341.89 L121.40 340.64 L121.86 339.35 L122.33 338.00 L122.80 336.61 L123.27 335.18 L123.74 333.64 L124.20 331.94 L124.67 330.10 L125.14 328.17 L125.61 326.26 L126.08 324.45 L126.54 322.74 L127.01 321.07 L127.48 319.43 L127.95 317.80 L128.42 316.19 L128.89 314.58 L129.35 312.99 L129.82 311.40 L130.29 309.84 L130.76 308.30 L131.23 306.79 L131.69 305.30 L132.16 303.81 L132.63 302.30 L133.10 300.77 L133.57 299.19 L134.03 297.52 L134.50 295.65 L134.97 293.55 L135.44 291.20 L135.91 288.90 L136.38 286.78 L136.84 284.69 L137.31 284.72 L137.78 286.60 L138.25 288.53 L138.72 290.50 L139.18 292.53 L139.65 294.62 L140.12 296.72 L140.59 298.85 L141.06 301.01 L141.53 303.19 L141.99 305.41 L142.46 307.69 L142.93 310.04 L143.40 312.54 L143.87 315.27 L144.33 318.21 L144.80 321.33 L145.27 324.44 L145.74 327.63 L146.21 330.97 L146.67 334.32 L147.14 337.65 L147.61 341.00 L148.08 344.31 L148.55 347.52 L149.02 350.89 L149.48 354.18 L149.95 356.87 L150.42 359.06 L150.89 361.03 L151.36 362.89 L151.82 364.64 L152.29 366.28 L152.76 367.83 L153.23 369.27 L153.70 370.59 L154.16 371.80 L154.63 372.92 L155.10 373.94 L155.57 374.90 L156.04 375.79 L156.50 376.64 L156.97 377.44 L157.44 378.20 L157.91 378.95 L158.38 379.67 L158.85 380.36 L159.31 381.02 L159.78 381.65 L160.25 382.26 L160.72 382.85 L161.19 383.41 L161.65 383.96 L162.12 384.48 L162.59 384.99 L163.06 385.49 L163.53 385.96 L164.00 386.41 L164.46 386.84 L164.93 387.24 L165.40 387.63 L165.87 387.99 L166.34 388.34 L166.80 388.66 L167.27 388.96 L167.74 389.26 L168.21 389.52 L168.68 389.77 L169.14 390.00 L169.61 390.19 L170.08 390.32 L170.55 390.41 L171.02 390.47 L171.49 390.52 L171.95 390.57 L172.42 390.64 L172.89 390.75 L173.36 390.91 L173.83 391.10 L174.29 391.31 L174.76 391.55 L175.23 391.81 L175.70 392.07 L176.17 392.35 L176.63 392.62 L177.10 392.90 L177.57 393.18 L178.04 393.45 L178.51 393.72 L178.98 393.98 L179.44 394.23 L179.91 394.46 L180.38 394.68 L180.85 394.89 L181.32 395.09 L181.78 395.28 L182.25 395.46 L182.72 395.65 L183.19 395.82 L183.66 396.00 L184.12 396.18 L184.59 396.36 L185.06 396.55 L185.53 396.74 L186.00 396.94 L186.47 397.14 L186.93 397.35 L187.40 397.55 L187.87 397.76 L188.34 397.96 L188.81 398.17 L189.27 398.37 L189.74 398.56 L190.21 398.75 L190.68 398.93 L191.15 399.11 L191.61 399.27 L192.08 399.43 L192.55 399.59 L193.02 399.73 L193.49 399.88 L193.96 400.02 L194.42 400.16 L194.89 400.30 L195.36 400.43 L195.83 400.56 L196.30 400.68 L196.76 400.81 L197.23 400.92 L197.70 401.04 L198.17 401.15 L198.64 401.26 L199.10 401.36 L199.57 401.45 L200.04 401.55 L200.51 401.63 L200.98 401.71 L201.45 401.79 L201.91 401.86 L202.38 401.92 L202.85 401.98 L203.32 402.03 L203.79 402.08 L204.25 402.12 L204.72 402.16 L205.19 402.19 L205.66 402.22 L206.13 402.25 L206.59 402.27 L207.06 402.29 L207.53 402.31 L208.00 402.33 L208.47 402.34 L208.94 402.36 L209.40 402.37 L209.87 402.39 L210.34 402.40 L210.81 402.40 L211.28 402.40 L211.74 402.40 L212.21 402.40 L212.68 402.40 L213.15 402.40 L213.62 402.40 L214.08 402.40 L214.55 402.40 L215.02 402.40 L215.49 402.40 L215.96 402.40 L216.43 402.40 L216.89 402.40 L217.36 402.40 L217.83 402.40 L218.30 402.40 L218.77 402.40 L219.23 402.40 L219.70 402.40 L220.17 402.40 L220.64 402.40 L221.11 402.40 L221.57 402.40 L222.04 402.40 L222.51 402.40 L222.98 402.40 L223.45 402.40 L223.92 402.40 L224.38 402.40 L224.85 402.40 L225.32 402.40 L225.79 402.40 L226.26 402.40 L226.72 402.40 L227.19 402.40 L227.66 402.40 L228.13 402.40 L228.60 402.40 L229.06 402.40 L229.53 402.40 L230.00 402.40 L230.47 402.40 L230.94 402.40 L231.41 402.40 L231.87 402.40 L232.34 402.40 L232.81 402.40 L233.28 402.40 L233.75 402.40 L234.21 402.40 L234.68 402.40 L235.15 402.40" fill="none" stroke="#909090" stroke-width="0.85"/>
<path d="M133.10 402.4 V262.6" stroke="#333" stroke-width="0.9" stroke-dasharray="0.9 1.3" fill="none"/>
<path d="M118.49 402.4 V335.15 H152.95 V402.4" stroke="#111" stroke-width="1" stroke-dasharray="3.2 1.5" fill="none"/>
<path d="M47.90 402.40 L48.07 402.40 L48.27 402.39 L48.51 402.40 L48.79 402.39 L49.12 402.38 L49.52 402.36 L49.98 402.32 L50.52 402.27 L51.15 402.20 L51.87 402.12 L52.66 402.03 L53.51 401.93 L54.40 401.82 L55.34 401.68 L56.29 401.53 L57.26 401.35 L58.26 401.15 L59.32 400.93 L60.41 400.69 L61.53 400.43 L62.67 400.15 L63.81 399.86 L64.95 399.56 L66.06 399.25 L67.16 398.95 L68.27 398.66 L69.37 398.36 L70.48 398.04 L71.58 397.70 L72.68 397.31 L73.77 396.87 L74.86 396.37 L75.95 395.81 L77.03 395.22 L78.11 394.58 L79.18 393.90 L80.26 393.17 L81.33 392.38 L82.40 391.52 L83.48 390.60 L84.55 389.60 L85.63 388.53 L86.71 387.40 L87.78 386.21 L88.86 384.97 L89.94 383.69 L91.01 382.37 L92.09 381.03 L93.17 379.65 L94.24 378.21 L95.32 376.73 L96.40 375.21 L97.47 373.67 L98.55 372.11 L99.63 370.54 L100.70 368.97 L101.80 367.37 L102.94 365.70 L104.08 364.01 L105.22 362.31 L106.33 360.63 L107.40 359.00 L108.40 357.44 L109.32 355.99 L110.14 354.67 L110.89 353.46 L111.58 352.33 L112.22 351.25 L112.83 350.17 L113.41 349.08 L113.98 347.93 L114.56 346.68 L115.14 345.35 L115.70 343.95 L116.25 342.51 L116.77 341.05 L117.28 339.56 L117.77 338.07 L118.24 336.60 L118.68 335.15 L119.09 333.73 L119.46 332.33 L119.80 330.93 L120.12 329.54 L120.44 328.14 L120.77 326.71 L121.11 325.25 L121.49 323.74 L121.90 322.18 L122.32 320.58 L122.76 318.95 L123.21 317.29 L123.67 315.62 L124.13 313.95 L124.59 312.28 L125.05 310.63 L125.52 308.96 L126.01 307.26 L126.52 305.54 L127.02 303.83 L127.52 302.15 L127.98 300.52 L128.41 298.97 L128.79 297.52 L129.12 296.18 L129.39 294.93 L129.63 293.76 L129.85 292.64 L130.04 291.56 L130.24 290.50 L130.44 289.43 L130.66 288.34 L130.90 287.23 L131.13 286.11 L131.37 285.00 L131.60 283.89 L131.83 282.82 L132.07 281.77 L132.30 280.77 L132.54 279.82 L132.77 278.92 L133.01 278.04 L133.24 277.19 L133.47 276.38 L133.71 275.62 L133.94 274.91 L134.18 274.25 L134.41 273.66 L134.64 273.13 L134.88 272.66 L135.11 272.24 L135.35 271.87 L135.58 271.56 L135.81 271.29 L136.05 271.08 L136.28 270.91 L136.52 270.78 L136.75 270.71 L136.98 270.68 L137.22 270.70 L137.45 270.77 L137.69 270.90 L137.92 271.07 L138.15 271.30 L138.39 271.58 L138.62 271.92 L138.86 272.31 L139.09 272.75 L139.32 273.24 L139.56 273.77 L139.79 274.35 L140.03 274.97 L140.25 275.62 L140.47 276.29 L140.68 276.99 L140.89 277.75 L141.12 278.57 L141.35 279.46 L141.61 280.44 L141.90 281.53 L142.21 282.70 L142.55 283.95 L142.90 285.27 L143.27 286.68 L143.65 288.17 L144.05 289.75 L144.47 291.42 L144.90 293.19 L145.35 295.13 L145.85 297.25 L146.38 299.50 L146.91 301.82 L147.44 304.15 L147.94 306.44 L148.41 308.62 L148.83 310.63 L149.19 312.49 L149.52 314.26 L149.82 315.95 L150.09 317.58 L150.35 319.16 L150.59 320.70 L150.83 322.22 L151.07 323.74 L151.31 325.22 L151.53 326.63 L151.74 328.01 L151.94 329.35 L152.14 330.70 L152.34 332.05 L152.54 333.44 L152.76 334.88 L152.99 336.39 L153.21 337.94 L153.45 339.52 L153.68 341.11 L153.92 342.71 L154.16 344.29 L154.40 345.83 L154.63 347.34 L154.85 348.78 L155.06 350.19 L155.25 351.56 L155.45 352.91 L155.67 354.26 L155.91 355.63 L156.18 357.03 L156.50 358.48 L156.88 360.00 L157.29 361.60 L157.73 363.23 L158.20 364.87 L158.69 366.50 L159.20 368.07 L159.72 369.56 L160.25 370.94 L160.78 372.20 L161.33 373.39 L161.89 374.50 L162.46 375.56 L163.05 376.57 L163.66 377.55 L164.29 378.51 L164.93 379.46 L165.60 380.40 L166.31 381.33 L167.03 382.23 L167.78 383.10 L168.52 383.93 L169.27 384.72 L170.01 385.46 L170.74 386.14 L171.45 386.78 L172.17 387.36 L172.89 387.90 L173.60 388.40 L174.31 388.85 L175.01 389.26 L175.69 389.62 L176.35 389.95 L176.99 390.19 L177.58 390.35 L178.16 390.44 L178.73 390.49 L179.31 390.55 L179.90 390.63 L180.54 390.77 L181.22 390.99 L181.97 391.32 L182.76 391.71 L183.59 392.15 L184.44 392.62 L185.30 393.11 L186.15 393.58 L186.98 394.02 L187.78 394.40 L188.53 394.73 L189.24 395.03 L189.93 395.30 L190.62 395.55 L191.31 395.80 L192.03 396.06 L192.78 396.33 L193.58 396.63 L194.42 396.97 L195.29 397.32 L196.18 397.69 L197.10 398.07 L198.05 398.45 L199.03 398.83 L200.03 399.18 L201.07 399.52 L202.15 399.84 L203.27 400.16 L204.43 400.47 L205.61 400.77 L206.81 401.05 L208.02 401.31 L209.23 401.55 L210.43 401.74 L211.60 401.91 L212.72 402.03 L213.83 402.13 L214.95 402.21 L216.12 402.27 L217.36 402.32 L218.70 402.36 L220.17 402.40 L221.89 402.40 L223.90 402.40 L226.06 402.40 L228.27 402.40 L230.40 402.40 L232.34 402.40 L233.96 402.40 L235.15 402.40" fill="none" stroke="#111" stroke-width="1.05" stroke-linejoin="round"/>
</g>
<rect x="47.9" y="262.6" width="187.5" height="139.79999999999995" fill="none" stroke="#6e6e6e" stroke-width="0.8"/>
<path d="M47.90 402.4 v3.4 M85.35 402.4 v3.4 M122.80 402.4 v3.4 M160.25 402.4 v3.4 M197.70 402.4 v3.4 M235.15 402.4 v3.4 M47.9 402.40 h-3.4 M47.9 376.18 h-3.4 M47.9 349.96 h-3.4 M47.9 323.74 h-3.4 M47.9 297.52 h-3.4 M47.9 271.30 h-3.4" stroke="#111" stroke-width="0.9" fill="none"/>
<text x="47.90" y="415.20" font-size="10.6" text-anchor="middle" fill="#111" textLength="6.4" lengthAdjust="spacingAndGlyphs" >0</text>
<text x="85.35" y="415.20" font-size="10.6" text-anchor="middle" fill="#111" textLength="12.8" lengthAdjust="spacingAndGlyphs" >10</text>
<text x="122.80" y="415.20" font-size="10.6" text-anchor="middle" fill="#111" textLength="12.8" lengthAdjust="spacingAndGlyphs" >20</text>
<text x="160.25" y="415.20" font-size="10.6" text-anchor="middle" fill="#111" textLength="12.8" lengthAdjust="spacingAndGlyphs" >30</text>
<text x="197.70" y="415.20" font-size="10.6" text-anchor="middle" fill="#111" textLength="12.8" lengthAdjust="spacingAndGlyphs" >40</text>
<text x="235.15" y="415.20" font-size="10.6" text-anchor="middle" fill="#111" textLength="12.8" lengthAdjust="spacingAndGlyphs" >50</text>
<text x="43.90" y="406.20" font-size="10.8" text-anchor="end" fill="#111" textLength="16.2" lengthAdjust="spacingAndGlyphs" >0.0</text>
<text x="43.90" y="379.98" font-size="10.8" text-anchor="end" fill="#111" textLength="16.2" lengthAdjust="spacingAndGlyphs" >0.2</text>
<text x="43.90" y="353.76" font-size="10.8" text-anchor="end" fill="#111" textLength="16.2" lengthAdjust="spacingAndGlyphs" >0.4</text>
<text x="43.90" y="327.54" font-size="10.8" text-anchor="end" fill="#111" textLength="16.2" lengthAdjust="spacingAndGlyphs" >0.6</text>
<text x="43.90" y="301.32" font-size="10.8" text-anchor="end" fill="#111" textLength="16.2" lengthAdjust="spacingAndGlyphs" >0.8</text>
<text x="43.90" y="275.10" font-size="10.8" text-anchor="end" fill="#111" textLength="16.2" lengthAdjust="spacingAndGlyphs" >1.0</text>
<text x="142.00" y="429.40" font-size="14.0" text-anchor="middle" fill="#111" textLength="142.6" lengthAdjust="spacingAndGlyphs" >Proton energy in MeV</text>
<text transform="translate(21.4 332.8) rotate(-90)" font-size="14.2" text-anchor="middle" fill="#111" textLength="117" lengthAdjust="spacingAndGlyphs">Normalized signal</text>
<rect x="157.4" y="265.9" width="74.8" height="39" rx="1.6" fill="#fff" fill-opacity="0.85" stroke="#cfcfcf" stroke-width="0.8"/>
<path d="M159 270.7 H172.4" stroke="#111" stroke-width="1.2"/>
<path d="M159 279.5 H172.4" stroke="#111" stroke-width="1.1" stroke-dasharray="3.2 1.4"/>
<path d="M159 288.4 H172.4" stroke="#333" stroke-width="0.9" stroke-dasharray="0.9 1.2"/>
<rect x="159" y="295.2" width="13.4" height="4.3" fill="#fff" stroke="#8c8c8c" stroke-width="0.8"/>
<path d="M159 297.34999999999997 H172.4" stroke="#8c8c8c" stroke-width="0.5"/>
<text x="177.8" y="273.20" font-size="6.9" fill="#111" textLength="51.6" lengthAdjust="spacingAndGlyphs" >Proton spectrum</text>
<text x="177.8" y="282.00" font-size="6.9" fill="#111" textLength="43.5" lengthAdjust="spacingAndGlyphs" >FWHM: 9 MeV</text>
<text x="177.8" y="290.90" font-size="6.9" fill="#111" textLength="44.5" lengthAdjust="spacingAndGlyphs" >Mean: 23 MeV</text>
<text x="177.8" y="299.90" font-size="6.9" fill="#111" textLength="50" lengthAdjust="spacingAndGlyphs" ><tspan font-style="italic">E<tspan font-size="4.8" dy="1">P</tspan></tspan><tspan dy="-1"> ± |Δ</tspan><tspan font-style="italic">E<tspan font-size="4.8" dy="1">P</tspan></tspan><tspan dy="-1">| (±1</tspan><tspan font-style="italic">σ</tspan>)</text>
<text x="239.9" y="262.9" font-size="15.3" text-anchor="start" font-weight="bold" fill="#000"  >c)</text>
<rect x="260.6" y="276.4" width="91" height="91" fill="#000"/>
<filter id="mott" x="0" y="0" width="100%" height="100%"><feTurbulence type="fractalNoise" baseFrequency="0.19" numOctaves="2" seed="11"/><feColorMatrix type="matrix" values="0 0 0 0 1   0 0 0 0 0.62   0 0 0 0 0   4.2 0 0 0 -1.7"/></filter>
<filter id="mott2" x="0" y="0" width="100%" height="100%"><feTurbulence type="fractalNoise" baseFrequency="0.17" numOctaves="2" seed="29"/><feColorMatrix type="matrix" values="0 0 0 0 1   0 0 0 0 0.93   0 0 0 0 0   0 4.0 0 0 -1.9"/></filter>
<g clip-path="url(#imgclip)">
<circle cx="304.84" cy="321.78" r="48.6" fill="url(#rcfimg)"/>
<circle cx="302" cy="318" r="34" fill="url(#oblob)"/>
<radialGradient id="mg" gradientUnits="userSpaceOnUse" cx="306.2" cy="322.5" r="39"><stop offset="0.82" stop-color="#fff"/><stop offset="1" stop-color="#000"/></radialGradient><mask id="inner" maskUnits="userSpaceOnUse" x="260" y="276" width="92" height="93"><rect x="260" y="276" width="92" height="93" fill="#000"/><circle cx="306.2" cy="322.5" r="39" fill="url(#mg)"/></mask>
<g mask="url(#inner)"><rect x="260" y="276" width="92" height="93" filter="url(#mott)"/><rect x="260" y="276" width="92" height="93" filter="url(#mott2)"/></g>
<path d="M314 351 Q322 347 326.5 339.5 Q329.5 341 327 345.5 Q323 351.5 316 353.5 Z" fill="#ff8a10" fill-opacity="0.9" filter="url(#blurS)"/>
</g>
<circle cx="306.8" cy="321.7" r="32.5" fill="none" stroke="#0a0a0a" stroke-width="2.1" stroke-dasharray="7.4 4.3" stroke-dashoffset="3"/>
<path d="M274.3 322 V366.8 M339.5 322 V366.8 M278 364.4 H292 M322.5 364.4 H336" stroke="#fff" stroke-opacity="0.9" stroke-width="0.95" fill="none"/>
<path d="M274.6 364.4 l6.2 -2.6 v5.2 Z M339.2 364.4 l-6.2 -2.6 v5.2 Z" fill="#fff"/>
<text x="307.3" y="365.8" font-size="11.5" text-anchor="middle" font-weight="normal" fill="#fff"  >5 mm</text>
<rect x="269.3" y="374.8" width="64.5" height="7.9" fill="url(#cbar)"/>
<text x="261.3" y="382.7" font-size="12.1" text-anchor="start" font-weight="normal" fill="#000"  >0</text>
<text x="336.8" y="382.7" font-size="12.1" text-anchor="start" font-weight="normal" fill="#000"  >4.5</text>
<text x="302.5" y="395.1" font-size="12.0" text-anchor="middle" font-weight="normal" fill="#000"  >D [Gy]</text>
<text x="359" y="262.9" font-size="15.3" text-anchor="start" font-weight="bold" fill="#000"  >d)</text>
<g clip-path="url(#axd)">
<path d="M400.40 402.4 V299.39 H407.23 V296.40 H414.06 V296.13 H420.89 V294.50 H427.72 V294.90 H434.55 V294.90 H441.38 V293.95 H448.21 V292.86 H455.04 V293.95 H461.87 V291.51 H468.70 V294.90 H475.53 V402.4 Z" fill="#ff0000" fill-opacity="0.3"/>
<rect x="400.40" y="282.81" width="75.13" height="21.74" fill="#0000ff" fill-opacity="0.3"/>
<path d="M393.70 295.85 H400.40 V306.73 H393.70 Z M395.93 295.85 V306.73 M398.17 295.85 V306.73 M393.70 299.48 H400.40 M393.70 303.10 H400.40 M400.40 293.68 H407.23 V305.10 H400.40 Z M402.68 293.68 V305.10 M404.95 293.68 V305.10 M400.40 297.49 H407.23 M400.40 301.29 H407.23 M407.23 290.42 H414.06 V302.38 H407.23 Z M409.51 290.42 V302.38 M411.78 290.42 V302.38 M407.23 294.40 H414.06 M407.23 298.39 H414.06 M414.06 290.15 H420.89 V302.11 H414.06 Z M416.34 290.15 V302.11 M418.61 290.15 V302.11 M414.06 294.13 H420.89 M414.06 298.12 H420.89 M420.89 288.52 H427.72 V300.47 H420.89 Z M423.17 288.52 V300.47 M425.44 288.52 V300.47 M420.89 292.50 H427.72 M420.89 296.49 H427.72 M427.72 288.92 H434.55 V300.88 H427.72 Z M430.00 288.92 V300.88 M432.27 288.92 V300.88 M427.72 292.91 H434.55 M427.72 296.90 H434.55 M434.55 288.92 H441.38 V300.88 H434.55 Z M436.83 288.92 V300.88 M439.10 288.92 V300.88 M434.55 292.91 H441.38 M434.55 296.90 H441.38 M441.38 287.97 H448.21 V299.93 H441.38 Z M443.66 287.97 V299.93 M445.93 287.97 V299.93 M441.38 291.96 H448.21 M441.38 295.94 H448.21 M448.21 286.88 H455.04 V298.84 H448.21 Z M450.49 286.88 V298.84 M452.76 286.88 V298.84 M448.21 290.87 H455.04 M448.21 294.86 H455.04 M455.04 287.97 H461.87 V299.93 H455.04 Z M457.32 287.97 V299.93 M459.59 287.97 V299.93 M455.04 291.96 H461.87 M455.04 295.94 H461.87 M461.87 285.25 H468.70 V297.76 H461.87 Z M464.15 285.25 V297.76 M466.42 285.25 V297.76 M461.87 289.42 H468.70 M461.87 293.59 H468.70 M468.70 288.92 H475.53 V300.88 H468.70 Z M470.98 288.92 V300.88 M473.25 288.92 V300.88 M468.70 292.91 H475.53 M468.70 296.90 H475.53 M475.53 293.41 H482.36 V304.82 H475.53 Z M477.81 293.41 V304.82 M480.08 293.41 V304.82 M475.53 297.21 H482.36 M475.53 301.02 H482.36 M482.36 298.03 H489.19 V308.90 H482.36 Z M484.64 298.03 V308.90 M486.91 298.03 V308.90 M482.36 301.65 H489.19 M482.36 305.28 H489.19 M489.19 303.19 H496.02 V313.52 H489.19 Z M491.47 303.19 V313.52 M493.74 303.19 V313.52 M489.19 306.64 H496.02 M489.19 310.08 H496.02 M496.02 312.98 H502.85 V323.31 H496.02 Z M498.30 312.98 V323.31 M500.57 312.98 V323.31 M496.02 316.42 H502.85 M496.02 319.86 H502.85 M502.85 324.67 H509.68 V333.91 H502.85 Z M505.13 324.67 V333.91 M507.40 324.67 V333.91 M502.85 329.29 H509.68 M509.68 337.17 H516.51 V345.32 H509.68 Z M511.96 337.17 V345.32 M514.23 337.17 V345.32 M509.68 341.25 H516.51 M516.51 347.90 H523.34 V354.97 H516.51 Z M518.79 347.90 V354.97 M521.06 347.90 V354.97 M516.51 351.44 H523.34 M523.34 358.64 H530.17 V364.62 H523.34 Z M525.62 358.64 V364.62 M527.89 358.64 V364.62 M523.34 361.63 H530.17 M530.17 366.39 H537.00 V371.28 H530.17 Z M532.45 366.39 V371.28 M534.72 366.39 V371.28 M537.00 372.77 H543.83 V377.12 H537.00 Z M539.28 372.77 V377.12 M541.55 372.77 V377.12 M543.83 377.67 H550.66 V381.47 H543.83 Z M546.11 377.67 V381.47 M548.38 377.67 V381.47 M550.66 381.74 H557.49 V385.00 H550.66 Z M552.94 381.74 V385.00 M555.21 381.74 V385.00" fill="none" stroke="#444" stroke-opacity="0.48" stroke-width="0.65"/>
<path d="M396.73 402.4 V266.5" stroke="#111" stroke-width="1" stroke-dasharray="3.2 1.5" fill="none"/>
<path d="M413.41 402.4 V266.5" stroke="#222" stroke-width="0.9" stroke-dasharray="0.9 1.2" fill="none"/>
<path d="M393.70 301.29 V301.29 H400.40 V299.39 H407.23 V296.40 H414.06 V296.13 H420.89 V294.50 H427.72 V294.90 H434.55 V294.90 H441.38 V293.95 H448.21 V292.86 H455.04 V293.95 H461.87 V291.51 H468.70 V294.90 H475.53 V299.12 H482.36 V303.46 H489.19 V308.36 H496.02 V318.14 H502.85 V329.29 H509.68 V341.25 H516.51 V351.44 H523.34 V361.63 H530.17 V368.83 H537.00 V374.95 H543.83 V379.57 H550.66 V383.37 H557.49 V402.4" fill="none" stroke="#111" stroke-width="1.1" stroke-linejoin="miter"/>
<path d="M393.70 304.01 V304.01 H400.40 V301.02 H407.23 V298.03 H414.06 V295.58 H420.89 V294.90 H427.72 V293.68 H434.55 V293.41 H441.38 V293.14 H448.21 V292.59 H455.04 V292.86 H461.87 V292.32 H468.70 V295.58 H475.53 V297.49 H482.36 V303.74 H489.19 V311.08 H496.02 V320.59 H502.85 V330.64 H509.68 V342.33 H516.51 V352.39 H523.34 V362.45 H530.17 V369.51 H537.00 V375.22 H543.83 V379.30 H550.66 V382.83 H557.49 V386.09 H564.32 V387.99 H571.15 V390.17 H577.98 V391.80 H580.80" fill="none" stroke="#ff00ff" stroke-width="1.0" stroke-linejoin="miter"/>
</g>
<rect x="393.9" y="266.5" width="204.10000000000002" height="135.89999999999998" fill="none" stroke="#6e6e6e" stroke-width="0.8"/>
<path d="M393.70 402.4 v3.4 M431.60 402.4 v3.4 M469.50 402.4 v3.4 M507.40 402.4 v3.4 M545.30 402.4 v3.4 M583.20 402.4 v3.4 M393.9 402.40 h-3.4 M393.9 375.22 h-3.4 M393.9 348.04 h-3.4 M393.9 320.86 h-3.4 M393.9 293.68 h-3.4 M393.9 266.50 h-3.4" stroke="#111" stroke-width="0.9" fill="none"/>
<text x="393.70" y="415.20" font-size="10.6" text-anchor="middle" fill="#111" textLength="6.4" lengthAdjust="spacingAndGlyphs" >0</text>
<text x="431.60" y="415.20" font-size="10.6" text-anchor="middle" fill="#111" textLength="6.4" lengthAdjust="spacingAndGlyphs" >2</text>
<text x="469.50" y="415.20" font-size="10.6" text-anchor="middle" fill="#111" textLength="6.4" lengthAdjust="spacingAndGlyphs" >4</text>
<text x="507.40" y="415.20" font-size="10.6" text-anchor="middle" fill="#111" textLength="6.4" lengthAdjust="spacingAndGlyphs" >6</text>
<text x="545.30" y="415.20" font-size="10.6" text-anchor="middle" fill="#111" textLength="6.4" lengthAdjust="spacingAndGlyphs" >8</text>
<text x="583.20" y="415.20" font-size="10.6" text-anchor="middle" fill="#111" textLength="12.8" lengthAdjust="spacingAndGlyphs" >10</text>
<text x="389.00" y="406.20" font-size="10.6" text-anchor="end" fill="#111" textLength="6.4" lengthAdjust="spacingAndGlyphs" >0</text>
<text x="389.00" y="379.02" font-size="10.6" text-anchor="end" fill="#111" textLength="6.4" lengthAdjust="spacingAndGlyphs" >1</text>
<text x="389.00" y="351.84" font-size="10.6" text-anchor="end" fill="#111" textLength="6.4" lengthAdjust="spacingAndGlyphs" >2</text>
<text x="389.00" y="324.66" font-size="10.6" text-anchor="end" fill="#111" textLength="6.4" lengthAdjust="spacingAndGlyphs" >3</text>
<text x="389.00" y="297.48" font-size="10.6" text-anchor="end" fill="#111" textLength="6.4" lengthAdjust="spacingAndGlyphs" >4</text>
<text x="389.00" y="270.30" font-size="10.6" text-anchor="end" fill="#111" textLength="6.4" lengthAdjust="spacingAndGlyphs" >5</text>
<text x="493.30" y="429.40" font-size="14.0" text-anchor="middle" fill="#111" textLength="123" lengthAdjust="spacingAndGlyphs" >Water depth in mm</text>
<text transform="translate(377 334.8) rotate(-90)" font-size="14.2" text-anchor="middle" fill="#111" textLength="70" lengthAdjust="spacingAndGlyphs">Dose in Gy</text>
<rect x="512.4" y="269.6" width="82.2" height="67.4" rx="1.6" fill="#fff" fill-opacity="0.85" stroke="#cfcfcf" stroke-width="0.8"/>
<path d="M515.4 274.80 H528.4" stroke="#111" stroke-width="1.15"/>
<path d="M515.4 283.40 H528.4" stroke="#ff00ff" stroke-width="1.05"/>
<path d="M515.4 292.60 H528.4" stroke="#111" stroke-width="1.1" stroke-dasharray="3.2 1.4"/>
<path d="M515.4 301.40 H528.4" stroke="#222" stroke-width="0.9" stroke-dasharray="0.9 1.2"/>
<path d="M515.4 308.70 h13 v4.4 h-13 Z M518.65 308.70 v4.4 M521.9 308.70 v4.4 M525.15 308.70 v4.4 M515.4 310.90 h13" fill="none" stroke="#808080" stroke-width="0.65"/>
<rect x="515.4" y="318.50" width="13" height="4.4" fill="#ff0000" fill-opacity="0.3"/>
<rect x="515.4" y="328.00" width="13" height="4.4" fill="#0000ff" fill-opacity="0.3"/>
<text x="532.7" y="277.30" font-size="6.9" fill="#111" textLength="30.4" lengthAdjust="spacingAndGlyphs" >RCF stack</text>
<text x="532.7" y="285.90" font-size="6.9" fill="#111" textLength="11.5" lengthAdjust="spacingAndGlyphs" >ToF</text>
<text x="532.7" y="295.10" font-size="6.9" fill="#111" textLength="33.2" lengthAdjust="spacingAndGlyphs" >Single RCF</text>
<text x="532.7" y="303.90" font-size="6.9" fill="#111" textLength="14.5" lengthAdjust="spacingAndGlyphs" >AMC</text>
<text x="532.7" y="313.40" font-size="6.9" fill="#111" textLength="58.5" lengthAdjust="spacingAndGlyphs" ><tspan font-style="italic">D<tspan font-size="4.8" dy="1">RCF</tspan></tspan><tspan dy="-1"> ± |Δ</tspan><tspan font-style="italic">D<tspan font-size="4.8" dy="1">RCF</tspan></tspan><tspan dy="-1">| (2</tspan><tspan font-style="italic">σ</tspan>)</text>
<text x="532.7" y="323.20" font-size="6.9" fill="#111" textLength="8.3" lengthAdjust="spacingAndGlyphs" >TV</text>
<text x="532.7" y="332.70" font-size="6.9" fill="#111" textLength="36" lengthAdjust="spacingAndGlyphs" >4 Gy ±10%</text></svg>
</body></html>
